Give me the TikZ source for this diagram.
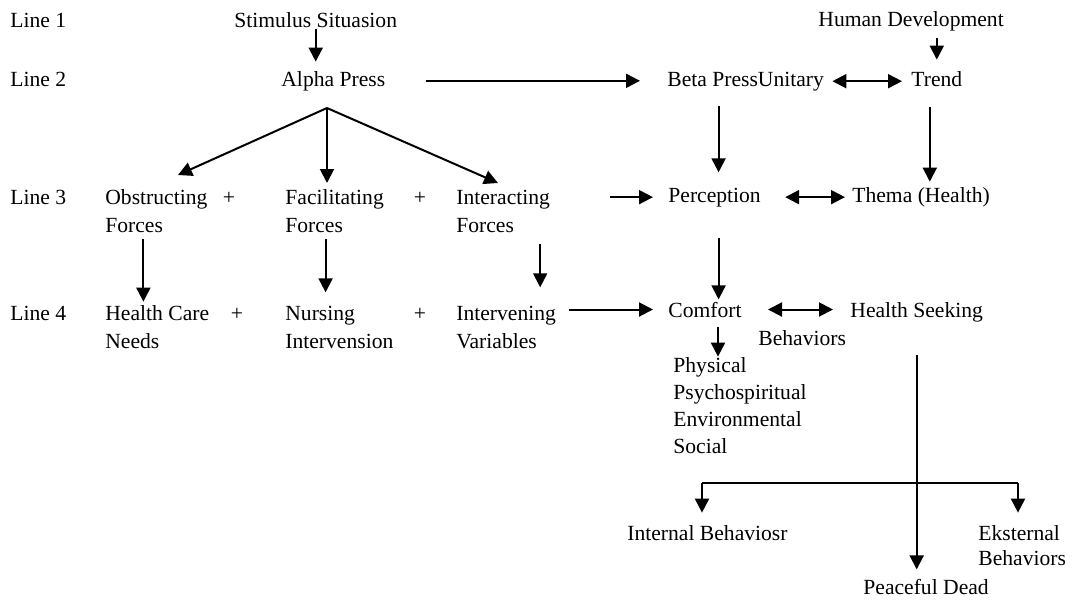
\documentclass[tikz,border=0pt]{standalone}
\usepackage{fontspec}
\setmainfont{Liberation Serif}
\usetikzlibrary{arrows.meta}
\begin{document}
\begin{tikzpicture}[x=0.5pt,y=-0.5pt,
  txt/.style={inner sep=0pt,anchor=base west,font=\fontsize{10.8}{14}\selectfont,align=left},
  plus/.style={inner sep=0pt,anchor=base,font=\fontsize{10.8}{14}\selectfont},
  arr/.style={line width=1pt,-{Triangle[length=7pt,width=7pt]}},
  darr/.style={line width=1pt,{Triangle[length=7pt,width=7pt]}-{Triangle[length=7pt,width=7pt]}},
  ln/.style={line width=1pt}]
\useasboundingbox (0,0) rectangle (1083,602);
% line labels
\node[txt] (l1) at (10,27) {Line 1};
\node[txt] (l2) at (10,86) {Line 2};
\node[txt] (l3) at (10,204) {Line 3};
\node[txt] (l4) at (10,320) {Line 4};
% row 1/2
\node[txt] (stim) at (234,27) {Stimulus Situasion};
\node[txt] (hum) at (818,26) {Human Development};
\node[txt] (alpha) at (281,86) {Alpha Press};
\node[txt] (beta) at (667,86) {Beta PressUnitary};
\node[txt] (trend) at (911,86) {Trend};
% row 3 (multi-line nodes placed by the baseline of their last line)
\node[txt] (obs) at (105,232) {Obstructing\\Forces};
\node[plus] (p1) at (229,204) {+};
\node[txt] (fac) at (285,232) {Facilitating\\Forces};
\node[plus] (p2) at (420,204) {+};
\node[txt] (inter) at (456,232) {Interacting\\Forces};
\node[txt] (perc) at (668,202) {Perception};
\node[txt] (thema) at (852,202) {Thema (Health)};
% row 4
\node[txt] (hcn) at (105,348) {Health Care\\Needs};
\node[plus] (p3) at (237,320) {+};
\node[txt] (nurs) at (285,348) {Nursing\\Intervension};
\node[plus] (p4) at (420,320) {+};
\node[txt] (intv) at (456,348) {Intervening\\Variables};
\node[txt] (comf) at (668,317) {Comfort};
\node[txt] (hs) at (850,317) {Health Seeking};
\node[txt] (behav) at (758,345) {Behaviors};
\node[txt,font=\fontsize{10.8}{13.5}\selectfont] (dims) at (673,453) {Physical\\Psychospiritual\\Environmental\\Social};
% bottom
\node[txt] (intb) at (627,540) {Internal Behaviosr};
\node[txt,font=\fontsize{10.8}{12.5}\selectfont] (extb) at (978,565) {Eksternal\\Behaviors};
\node[txt] (peace) at (863,594) {Peaceful Dead};
% connectors
\draw[arr,shorten <=0.5pt,shorten >=4.5pt] (stim.south) -- (stim.south |- alpha.north);
\draw[arr,shorten <=20pt,shorten >=13.5pt] (alpha.east) -- (alpha.east -| beta.west);
\draw[darr,shorten <=4pt,shorten >=4.5pt] (beta.east) -- (beta.east -| trend.west);
\draw[arr,shorten <=3.5pt,shorten >=5.5pt] (hum.south -| trend.north) -- (trend.north);
\draw[arr,shorten <=7.5pt,shorten >=7.5pt] ([xshift=2pt]perc.north |- beta.south) -- ([xshift=2pt]perc.north);
\draw[arr,shorten <=10pt,shorten >=2.5pt] ([xshift=-3.5pt]trend.south) -- ([xshift=-3.5pt]trend.south |- thema.north);
% fan
\coordinate (apex) at (327,108);
\coordinate (fanL) at (178,175);
\coordinate (fanM) at (327,183);
\coordinate (fanR) at (498,183);
\draw[arr] (apex) -- (fanL);
\draw[arr] (apex) -- (fanM);
\draw[arr] (apex) -- (fanR);
% row 3 horizontals
\draw[arr,shorten <=30pt,shorten >=7.5pt] (perc.west -| inter.east) -- (perc.west);
\draw[darr,shorten <=12pt,shorten >=3.5pt] (perc.east) -- (perc.east -| thema.west);
% row 3 -> row 4
\draw[arr,shorten <=3pt,shorten >=1.5pt] ([xshift=-6.5pt]obs.south) -- ([xshift=-6.5pt]obs.south |- hcn.north);
\draw[arr,shorten <=3pt,shorten >=6.5pt] ([xshift=-4.5pt]fac.south) -- ([xshift=-4.5pt]fac.south |- nurs.north);
\draw[arr,shorten <=5.5pt,shorten >=9pt] ([xshift=18.5pt]inter.south) -- ([xshift=18.5pt]inter.south |- intv.north);
\draw[arr,shorten <=15.5pt,shorten >=1pt] ([xshift=2pt]perc.south) -- ([xshift=2pt]perc.south |- comf.north);
% row 4 horizontals
\draw[arr,shorten <=6.5pt,shorten >=7.5pt] (comf.west -| intv.east) -- (comf.west);
\draw[darr,shorten <=13pt,shorten >=8.5pt] (comf.east) -- (comf.east -| hs.west);
\draw[arr,shorten <=4.5pt] ([xshift=6.5pt]comf.south) -- ([xshift=6.5pt]comf.south |- dims.north);
% health seeking -> peaceful dead
\draw[arr,shorten <=16.5pt,shorten >=4.5pt] (hs.south) -- (hs.south |- peace.north);
% T branch
\coordinate (tl) at (702,483);
\coordinate (tr) at (1018,483);
\draw[ln] (tl) -- (tr);
\draw[arr,shorten >=6pt] (tl) -- (tl |- intb.north);
\draw[arr,shorten >=6pt] (tr) -- (tr |- extb.north);
\end{tikzpicture}
\end{document}
